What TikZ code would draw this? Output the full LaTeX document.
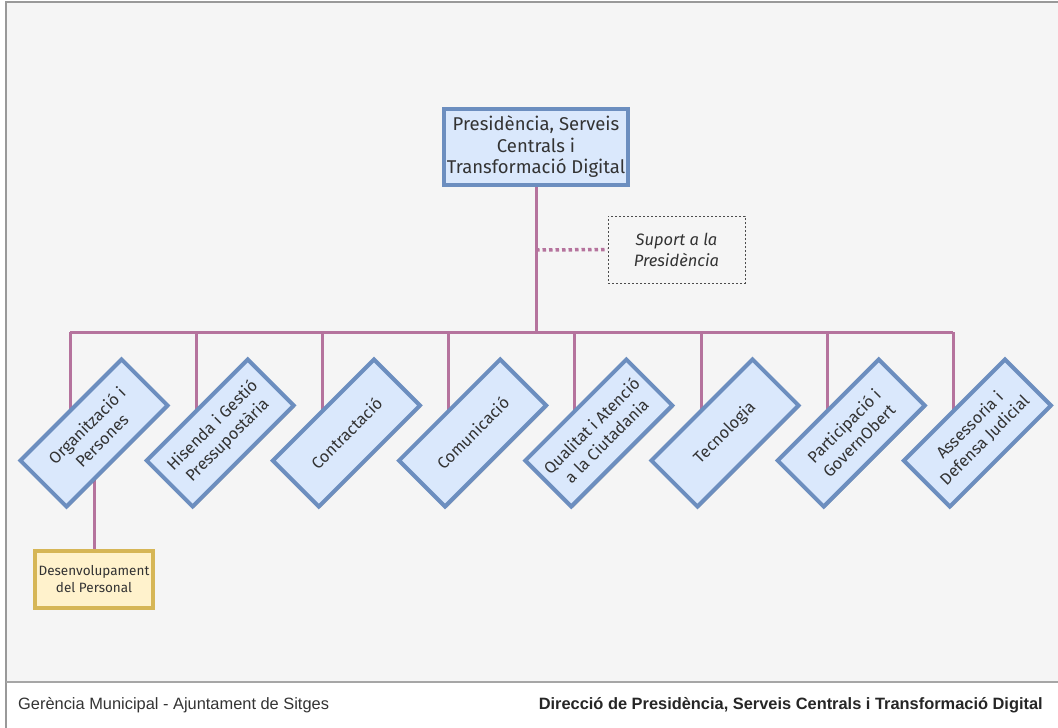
\documentclass[tikz,border=0pt]{standalone}
\usepackage{fontspec}
\setmainfont{Fira Sans}
\newfontfamily\footfont{Liberation Sans}
\usetikzlibrary{shadows}
\definecolor{bgc}{HTML}{F5F5F5}
\definecolor{bluefill}{HTML}{DAE8FC}
\definecolor{blueline}{HTML}{6C8EBF}
\definecolor{pinkline}{HTML}{B5739D}
\definecolor{yfill}{HTML}{FFF2CC}
\definecolor{yline}{HTML}{D6B656}
\definecolor{txt}{HTML}{333333}
\definecolor{framec}{HTML}{999999}
\pgfdeclarelayer{bglayer}
\pgfdeclarelayer{linelayer}
\pgfsetlayers{bglayer,linelayer,main}
\tikzset{
  shad/.style={drop shadow={shadow xshift=1.5pt,shadow yshift=-1.5pt,fill=black,opacity=0.25}},
  topbox/.style={draw=blueline,fill=bluefill,line width=4pt,minimum width=184pt,minimum height=76pt,
    align=center,inner sep=0pt,text=txt,font=\fontsize{18.5}{21.5}\selectfont,shad},
  subbox/.style={draw=blueline,fill=bluefill,line width=4pt,minimum width=143pt,minimum height=65pt,
    align=center,inner sep=0pt,text=txt,font=\fontsize{16.3}{21}\selectfont,rotate=45,shad},
  devbox/.style={draw=yline,fill=yfill,line width=4pt,minimum width=118pt,minimum height=57pt,
    align=center,inner sep=0pt,text=txt,font=\fontsize{13.5}{17}\selectfont,shad},
  supbox/.style={draw=black!70,dash pattern=on 2pt off 2pt,line width=0.9pt,minimum width=137pt,minimum height=67pt,
    align=center,inner sep=0pt,text=txt,font=\itshape\fontsize{16.5}{21}\selectfont},
  conn/.style={draw=pinkline,line width=3pt},
  dotconn/.style={draw=pinkline,line width=3.5pt,dash pattern=on 3.5pt off 3pt},
  framel/.style={draw=framec,line width=1.5pt},
  foot/.style={text=txt,font=\footfont\fontsize{16.4}{18}\selectfont,inner sep=0pt}
}
\begin{document}
\begin{tikzpicture}[x=1pt,y=-1pt]
\useasboundingbox (0,0) rectangle (1058,728);
\begin{pgfonlayer}{bglayer}
\fill[bgc] (6,2) rectangle (1058,682);
\end{pgfonlayer}
\draw[framel] (6,728) -- (6,2) -- (1058,2);
\draw[framel,draw=black!35] (6,682) -- (1058,682);

\node[topbox] (top) at (536,147) {Presidència, Serveis\\Centrals i\\Transformació Digital};
\node[supbox] (sup) at (676.5,249.5) {Suport a la\\Presidència};
\coordinate (s) at (536,250);
\coordinate (j) at (536,332);

\foreach \i/\t in {1/{Organització i\\Persones},2/{Hisenda i Gestió\\Pressupostària},3/{Contractació},
  4/{Comunicació},5/{Qualitat i Atenció\\a la Ciutadania},6/{Tecnologia},7/{Participació i\\GovernObert},
  8/{Assessoria i\\Defensa Judicial}}{
  \coordinate (t\i) at ({70+126.2*(\i-1)},332);
  \node[subbox] (b\i) at ({94+126.2*(\i-1)},433) {\t};
}
\node[devbox] (dev) at (94,579.5) {Desenvolupament\\del Personal};

\begin{pgfonlayer}{linelayer}
\draw[conn] (top.south) -- (j);
\draw[conn] (t1) -- (t8);
\foreach \i in {1,...,8}{\draw[conn] (t\i) -- (t\i |- b\i.center);}
\draw[conn] (b1.center) -- (dev.north);
\draw[dotconn] (s) -- (sup.west);
\end{pgfonlayer}

\node[foot,anchor=west] (fl) at (18,705) {Gerència Municipal - Ajuntament de Sitges};
\node[foot,anchor=east,font=\footfont\bfseries\fontsize{16.4}{18}\selectfont,text=black!85] (fr) at (1043,705) {Direcció de Presidència, Serveis Centrals i Transformació Digital};
\end{tikzpicture}
\end{document}
